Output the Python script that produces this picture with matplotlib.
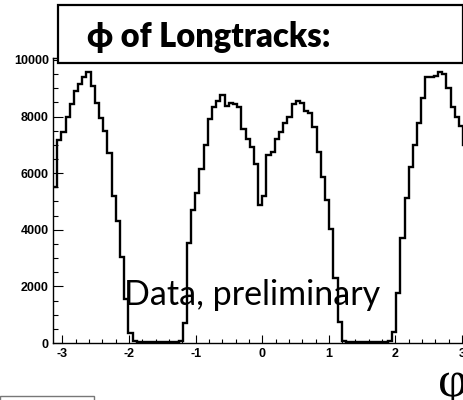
import matplotlib.pyplot as plt
import numpy as np
from matplotlib.patches import Rectangle
from matplotlib.ticker import MultipleLocator

# track phi histogram, 100 bins over [-pi, pi]
counts = [
    5525, 7174, 7469, 7999, 8446, 8906, 9141, 9412, 9589, 9082,
    8493, 7963, 7492, 6703, 5207, 4323, 3039, 1540, 342, 70,
    40, 30, 25, 30, 20, 25, 30, 25, 35, 45,
    60, 700, 3530, 4700, 5290, 6145, 7000, 7920, 8350, 8560,
    8765, 8380, 8480, 8430, 8330, 7550, 7200, 6940, 6320, 4890,
    5200, 6650, 6765, 7200, 7450, 7770, 8000, 8450, 8550, 8465,
    8180, 8120, 7645, 6762, 5878, 5054, 4029, 2285, 754, 70,
    50, 35, 30, 25, 30, 25, 30, 35, 30, 40,
    60, 380, 1755, 3699, 5113, 6232, 6997, 7763, 8646, 9412,
    9412, 9448, 9589, 9495, 9024, 8352, 7999, 7681, 6997, 6200,
]
edges = np.linspace(-np.pi, np.pi, len(counts) + 1)

xticks = [-3, -2, -1, 0, 1, 2, 3]
xlabels = ['-3', '-2', '-1', '0', '1', '2', '3']
yticks = [0, 2000, 4000, 6000, 8000, 10000]
ylabels = ['0', '2000', '4000', '6000', '8000', '10000']

W, H = 464, 400
fig = plt.figure(figsize=(W / 100, H / 100), dpi=100)
# frame runs past the right edge of the canvas
ax = fig.add_axes([53 / W, 57 / H, 418.5 / W, 285 / H])

ax.stairs(counts, edges, color='black', linewidth=1.7, baseline=None)
ax.set_xlim(-np.pi, np.pi)
ax.set_ylim(0, 10070)

ax.set_xticks(xticks)
ax.set_xticklabels(xlabels)
ax.set_yticks(yticks)
ax.set_yticklabels(ylabels)
ax.xaxis.set_minor_locator(MultipleLocator(0.2))
ax.yaxis.set_minor_locator(MultipleLocator(500))

ax.tick_params(which='both', direction='in', top=False, right=False, width=0.8)
ax.tick_params(axis='x', which='major', length=5.8, pad=3.5)
ax.tick_params(axis='x', which='minor', length=2.9)
ax.tick_params(axis='y', which='major', length=7.2, pad=3)
ax.tick_params(axis='y', which='minor', length=3.6)
for lab in ax.get_xticklabels() + ax.get_yticklabels():
    lab.set_fontfamily('Liberation Sans')
    lab.set_fontweight('bold')
    lab.set_fontsize(9)
for sp in ax.spines.values():
    sp.set_linewidth(1.0)

# title pave
fig.add_artist(Rectangle((58 / W, 1 - 63 / H), 405.5 / W, 58 / H,
                         transform=fig.transFigure, facecolor='white',
                         edgecolor='black', linewidth=1.6, zorder=5))
fig.text(87 / W, 1 - 37 / H, 'ϕ of Longtracks:', fontsize=23.5,
         fontweight='heavy', family=['Lato', 'DejaVu Sans'],
         ha='left', va='center', zorder=6)

fig.text(124 / W, 1 - 305 / H, 'Data, preliminary', fontsize=24.5,
         family=['Lato', 'DejaVu Sans'], ha='left', va='baseline', zorder=6)

fig.text(453 / W, 1 - 396 / H, 'φ', fontsize=37,
         family=['Liberation Serif', 'DejaVu Serif'],
         ha='center', va='baseline', zorder=6)

# box at the lower left corner
fig.add_artist(Rectangle((0, -10 / H), 94 / W, 14 / H,
                         transform=fig.transFigure, facecolor='white',
                         edgecolor='#777777', linewidth=1.0, zorder=5))

fig.savefig('out.png', dpi=100)
